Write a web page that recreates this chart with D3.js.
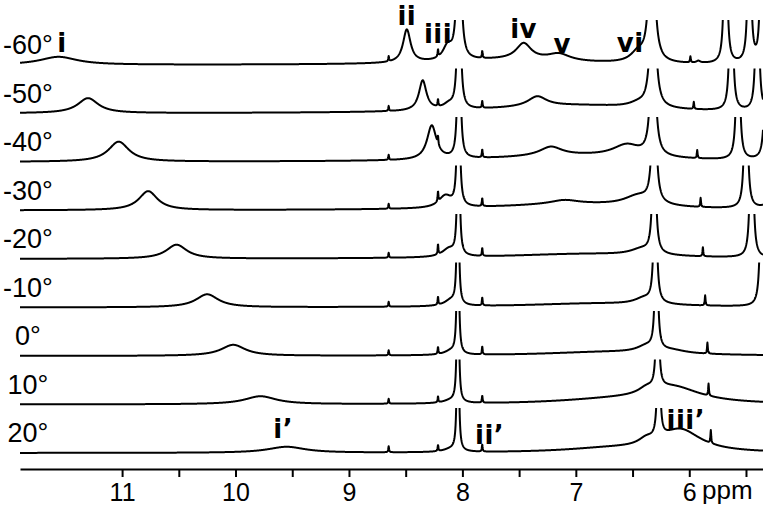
<!DOCTYPE html>
<html>
<head>
<meta charset="utf-8">
<script src="https://cdn.jsdelivr.net/npm/d3@7"></script>
<style>
body { margin: 0; background: #fff; }
svg { display: block; }
text { font-family: "Liberation Sans", Arial, sans-serif; fill: #000; }
</style>
</head>
<body>
<script>
var width  = 763;
var height = 507;

// temperature of each trace, top to bottom
var temps = ["-60°", "-50°", "-40°", "-30°", "-20°", "-10°", "0°", "10°", "20°"];

// peaks of each trace: [ppm, height, half width]  (height 45 = top of the band)
var spec_m60 = [[11.56, 8, 0.20], [8.49, 33, 0.04], [8.13, 14, 0.05], [8.65, 5, 0.004], [8.215, 7, 0.004],
                [8.03, 300, 0.013], [7.825, 7, 0.004], [7.46, 16, 0.08], [7.15, 7, 0.12], [7.6, 5, 0.7],
                [6.45, 10, 0.08], [6.33, 200, 0.022], [5.99, 6, 0.004], [5.92, 2, 0.02],
                [5.68, 300, 0.01], [5.47, 300, 0.01], [5.36, 300, 0.01]];
var spec_m50 = [[11.30, 15, 0.11], [8.35, 30, 0.04], [8.12, 5, 0.06], [8.65, 5, 0.004], [8.215, 7, 0.004],
                [8.03, 300, 0.01], [7.825, 7, 0.004], [7.34, 10, 0.1], [7.0, 8, 0.9], [6.45, 4, 0.1],
                [6.32, 200, 0.02], [5.96, 7, 0.004], [5.63, 300, 0.01], [5.40, 300, 0.01]];
var spec_m40 = [[11.03, 20, 0.11], [8.27, 34, 0.05], [8.65, 5, 0.004], [8.215, 8, 0.004],
                [8.03, 300, 0.009], [7.825, 8, 0.004], [7.22, 9, 0.12], [6.55, 12, 0.15], [7.0, 6, 0.9],
                [6.32, 200, 0.018], [5.93, 8, 0.004], [5.57, 300, 0.01], [5.32, 300, 0.01]];
var spec_m30 = [[10.77, 19, 0.10], [8.15, 12, 0.07], [8.65, 5, 0.004], [8.215, 10, 0.004],
                [8.035, 300, 0.008], [7.825, 8, 0.004], [7.0, 6, 0.9], [7.1, 4, 0.15], [6.45, 10, 0.15],
                [6.31, 200, 0.015], [5.90, 9, 0.004], [5.50, 300, 0.01], [5.25, 300, 0.01]];
var spec_m20 = [[10.52, 14, 0.11], [8.12, 8, 0.07], [8.65, 5, 0.004], [8.215, 10, 0.004],
                [8.035, 300, 0.007], [7.825, 8, 0.004], [6.9, 5, 0.9], [6.42, 6, 0.12],
                [6.31, 200, 0.012], [5.88, 9, 0.004], [5.45, 300, 0.01]];
var spec_m10 = [[10.25, 13, 0.12], [8.10, 6, 0.07], [8.65, 5, 0.004], [8.215, 8, 0.004],
                [8.04, 300, 0.006], [7.825, 8, 0.004], [6.8, 4, 0.8], [6.40, 6, 0.1],
                [6.30, 200, 0.011], [5.86, 10, 0.004], [5.36, 300, 0.01]];
var spec_0   = [[10.02, 11, 0.13], [8.10, 4, 0.07], [8.65, 5, 0.004], [8.215, 7, 0.004],
                [8.04, 300, 0.006], [7.825, 8, 0.004], [6.7, 4, 0.7], [6.38, 6, 0.1],
                [6.29, 200, 0.01], [6.15, 3, 0.15], [5.84, 11, 0.004]];
var spec_10  = [[9.78, 8, 0.17], [8.10, 3, 0.08], [8.65, 5, 0.004], [8.215, 6, 0.004],
                [8.04, 300, 0.006], [7.825, 7, 0.004], [6.7, 4, 0.6], [6.38, 5, 0.08],
                [6.28, 200, 0.009], [6.15, 16, 0.3], [5.83, 12, 0.004]];
var spec_20  = [[9.55, 6, 0.20], [8.10, 3, 0.08], [8.65, 6, 0.004], [8.215, 6, 0.004],
                [8.04, 300, 0.006], [7.825, 7, 0.004], [6.7, 4, 0.5], [6.38, 6, 0.08],
                [6.27, 200, 0.009], [6.08, 22, 0.22], [5.81, 13, 0.004]];
var spectra = [spec_m60, spec_m50, spec_m40, spec_m30, spec_m20, spec_m10, spec_0, spec_10, spec_20];

var axisTicks = [11, 10.5, 10, 9.5, 9, 8.5, 8, 7.5, 7, 6.5, 6, 5.5];

// peak names: text, ppm, baseline y
var peakNames = [["i", 11.53, 52], ["ii", 8.49, 25], ["iii", 8.215, 43], ["iv", 7.46, 38],
                 ["v", 7.12, 53], ["vi", 6.52, 52], ["i’", 9.58, 438], ["ii’", 7.76, 444],
                 ["iii’", 6.03, 429]];

var x    = d3.scaleLinear().domain([11.9, 5.35]).range([20, 763]);
var row  = d3.scaleLinear().domain([0, 8]).range([65, 453]);
var y    = d3.scaleLinear().domain([0, 45]).range([0, -45]);
var grid = d3.range(11.9, 5.349, -0.002);

function shape(p, peaks) {
    return d3.sum(peaks, function (k) { var d = (p - k[0]) / k[2]; return k[1] / (1 + d * d); });
}

var svg = d3.select("body").append("svg")
    .attr("width", width)
    .attr("height", height);

var defs = svg.append("defs");
var line = d3.line()
    .x(function (d) { return x(d[0]); })
    .y(function (d) { return y(d[1]); });

spectra.forEach(function (peaks, i) {
    var base = row(i);
    defs.append("clipPath").attr("id", "clip" + i)
        .append("rect")
        .attr("x", 20).attr("y", -45)
        .attr("width", 743).attr("height", 52);

    var g = svg.append("g").attr("transform", "translate(0," + base + ")");
    g.append("path")
        .datum(grid.map(function (p) { return [p, shape(p, peaks)]; }))
        .attr("clip-path", "url(#clip" + i + ")")
        .attr("fill", "none")
        .attr("stroke", "#000")
        .attr("stroke-width", 2)
        .attr("stroke-linejoin", "round")
        .attr("d", line);

    g.append("text")
        .attr("x", 28).attr("y", -11)
        .attr("text-anchor", "middle")
        .style("font-size", "27px")
        .text(temps[i]);
});

var axis = svg.append("g")
    .attr("transform", "translate(0,469)")
    .call(d3.axisBottom(x)
        .tickValues(axisTicks)
        .tickSize(8)
        .tickSizeOuter(0)
        .tickFormat(function (d) { return d % 1 === 0 ? d : ""; }));
axis.select(".domain").attr("stroke-width", 2);
axis.selectAll(".tick line").attr("stroke-width", 2);
axis.selectAll(".tick text")
    .attr("y", 32).attr("dy", 0)
    .style("font-size", "25px")
    .style("font-family", "'Liberation Sans', Arial, sans-serif");

svg.append("text")
    .attr("x", 702).attr("y", 499)
    .style("font-size", "26px")
    .text("ppm");

svg.append("g").selectAll("text")
    .data(peakNames)
    .enter()
    .append("text")
    .attr("x", function (d) { return x(d[1]); })
    .attr("y", function (d) { return d[2]; })
    .attr("text-anchor", "middle")
    .style("font-family", "'DejaVu Sans', sans-serif")
    .style("font-weight", "bold")
    .style("font-size", "26px")
    .style("letter-spacing", "0.5px")
    .text(function (d) { return d[0]; });
</script>
</body>
</html>
